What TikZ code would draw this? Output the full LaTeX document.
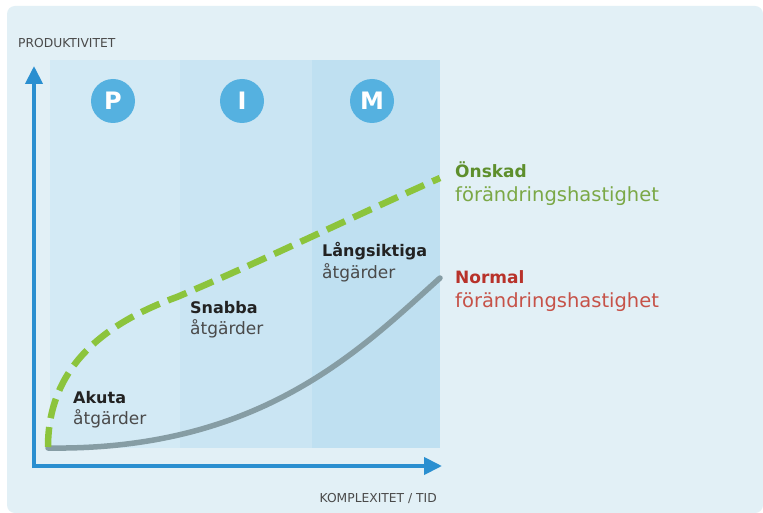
\documentclass[tikz,border=0pt]{standalone}
\usepackage{fontspec}
\setmainfont{DejaVu Sans}
\usetikzlibrary{arrows.meta}
\definecolor{panel}{HTML}{E2F0F6}
\definecolor{colP}{HTML}{D3EAF5}
\definecolor{colI}{HTML}{CAE5F3}
\definecolor{colM}{HTML}{BFE0F1}
\definecolor{axisblue}{HTML}{2A8FD0}
\definecolor{circblue}{HTML}{55B1E0}
\definecolor{dgreen}{HTML}{8CC43C}
\definecolor{ggray}{HTML}{869DA4}
\definecolor{txtgreen}{HTML}{5E8F2C}
\definecolor{txtgreenl}{HTML}{7BA846}
\definecolor{txtred}{HTML}{B8322A}
\definecolor{txtredl}{HTML}{C65248}
\definecolor{txtdark}{HTML}{222222}
\definecolor{txtgray}{HTML}{4A4A4A}
\begin{document}
\begin{tikzpicture}[x=1pt,y=-1pt,
  lbl/.style={anchor=base west,inner sep=0pt,font=\fontsize{17}{19}\selectfont},
  boldlbl/.style={anchor=base west,inner sep=0pt,font=\fontsize{16}{18}\selectfont\bfseries},
  rlbl/.style={anchor=base west,inner sep=0pt,font=\fontsize{19.5}{22}\selectfont},
  rboldlbl/.style={anchor=base west,inner sep=0pt,font=\fontsize{17}{19}\selectfont\bfseries},
  axislbl/.style={inner sep=0pt,font=\fontsize{12.3}{14}\selectfont,text=txtgray},
  letter/.style={circle,fill=circblue,minimum size=44pt,inner sep=0pt,text=white,font=\fontsize{24}{26}\selectfont\bfseries},
  axisline/.style={draw=axisblue,line width=4pt,-{Triangle[length=18pt,width=17pt]}}
]
\useasboundingbox (0,0) rectangle (763,513);
\fill[white] (0,0) rectangle (763,513);
\fill[panel,rounded corners=8pt] (7,6) rectangle (763,513);
% columns
\fill[colP] (50,60) rectangle (180,448);
\fill[colI] (180,60) rectangle (312,448);
\fill[colM] (312,60) rectangle (440,448);
% circles
\node[letter] (p) at (113,101) {P};
\node[letter] (i) at (242,101) {I};
\node[letter] (m) at (372,101) {M};
% axes
\coordinate (ytip) at (34,66);
\coordinate (xtip) at (442,466);
\draw[axisline] (34,468) -- (ytip);
\draw[axisline] (32,466) -- (xtip);
% curves
\coordinate (gstart) at (48,448);
\coordinate (gend) at (440,278);
\draw[ggray,line width=5.5pt,line cap=round] (gstart) .. controls (260,451) and (360,350) .. (gend);
\coordinate (dstart) at (48,447);
\coordinate (dmid) at (177,297);
\coordinate (dend) at (440,178);
\draw[dgreen,line width=6.5pt,dash pattern=on 20pt off 9pt] (dstart) .. controls (48,370) and (100,325) .. (dmid) .. controls (260,262) and (350,218) .. (dend);
% labels
\node[boldlbl,text=txtdark] (akuta) at (73,403) {Akuta};
\node[lbl,text=txtgray] (akuta2) at (73,424) {åtgärder};
\node[boldlbl,text=txtdark] (snabba) at (190,313) {Snabba};
\node[lbl,text=txtgray] (snabba2) at (190,334) {åtgärder};
\node[boldlbl,text=txtdark] (lang) at (322,257) {Långsiktiga};
\node[lbl,text=txtgray] (lang2) at (322,278) {åtgärder};
\node[rboldlbl,text=txtgreen] (onskad) at (455,178) {Önskad};
\node[rlbl,text=txtgreenl] (onskad2) at (455,202) {förändringshastighet};
\node[rboldlbl,text=txtred] (normal) at (455,283) {Normal};
\node[rlbl,text=txtredl] (normal2) at (455,307) {förändringshastighet};
\node[axislbl,anchor=base west] (prod) at (18,48) {PRODUKTIVITET};
\node[axislbl,anchor=base east] (komp) at (437,502) {KOMPLEXITET / TID};
\end{tikzpicture}
\end{document}
